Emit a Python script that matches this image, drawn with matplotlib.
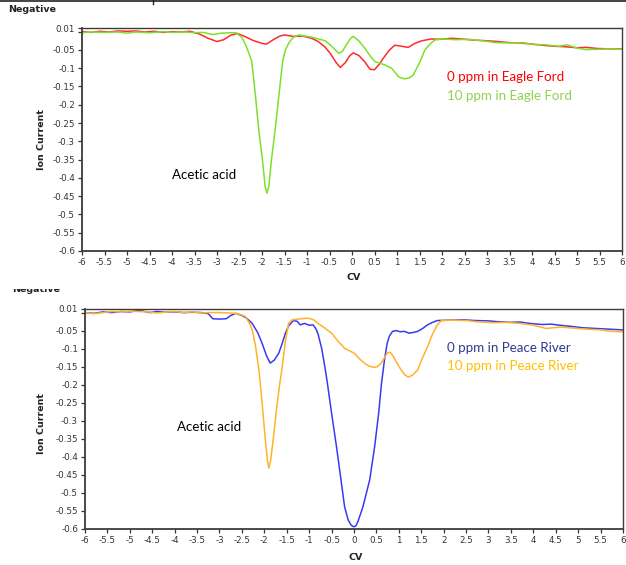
import matplotlib
matplotlib.use("Agg")
import matplotlib.pyplot as plt
from matplotlib.lines import Line2D
from matplotlib.patches import Rectangle

W, H = 626, 565

# ---- Eagle Ford (top panel) ----
ef0_cv = [-6.0, -5.8, -5.6, -5.4, -5.2, -5.0, -4.8, -4.6, -4.4, -4.2, -4.0, -3.8, -3.6,
          -3.4, -3.2, -3.0, -2.85, -2.7, -2.55, -2.4, -2.2, -2.0, -1.9, -1.75, -1.6, -1.5,
          -1.3, -1.1, -0.9, -0.75, -0.6, -0.48, -0.35, -0.26, -0.15, -0.05, 0.03, 0.15,
          0.28, 0.4, 0.5, 0.6, 0.7, 0.82, 0.95, 1.1, 1.25, 1.4, 1.55, 1.76, 2.0, 2.2, 2.43,
          2.7, 3.0, 3.24, 3.5, 3.75, 4.0, 4.3, 4.5, 4.71, 5.0, 5.2, 5.45, 5.7, 6.0]
ef0_i = [0.000, -0.002, 0.001, -0.001, 0.002, 0.001, 0.002, -0.001, 0.001, -0.002, 0.000,
         -0.001, 0.001, -0.006, -0.018, -0.027, -0.022, -0.010, -0.005, -0.012, -0.024,
         -0.032, -0.034, -0.022, -0.012, -0.009, -0.013, -0.012, -0.018, -0.027, -0.042,
         -0.060, -0.085, -0.098, -0.085, -0.066, -0.058, -0.065, -0.082, -0.103, -0.104,
         -0.090, -0.072, -0.052, -0.037, -0.040, -0.043, -0.032, -0.025, -0.020, -0.021,
         -0.018, -0.020, -0.023, -0.025, -0.027, -0.030, -0.031, -0.034, -0.038, -0.040,
         -0.041, -0.044, -0.043, -0.046, -0.047, -0.047]

ef10_cv = [-6.0, -5.8, -5.5, -5.2, -5.0, -4.8, -4.5, -4.2, -4.0, -3.7, -3.5, -3.3, -3.1,
           -2.9, -2.7, -2.58, -2.45, -2.35, -2.29, -2.23, -2.15, -2.08, -1.99, -1.93, -1.89,
           -1.85, -1.79, -1.70, -1.62, -1.54, -1.48, -1.40, -1.3, -1.18, -1.0, -0.89, -0.75,
           -0.59, -0.45, -0.3, -0.22, -0.12, -0.03, 0.03, 0.15, 0.29, 0.4, 0.51, 0.73, 0.88,
           1.03, 1.1, 1.18, 1.28, 1.36, 1.5, 1.62, 1.75, 1.84, 2.0, 2.3, 2.6, 2.9, 3.2, 3.5,
           3.8, 4.0, 4.3, 4.6, 4.78, 5.0, 5.2, 5.5, 5.7, 6.0]
ef10_i = [-0.003, -0.001, -0.002, -0.001, -0.004, -0.001, -0.003, 0.000, -0.002, -0.001,
          -0.003, -0.002, -0.008, -0.004, -0.003, -0.003, -0.015, -0.040, -0.060, -0.080,
          -0.169, -0.260, -0.351, -0.424, -0.442, -0.424, -0.351, -0.260, -0.169, -0.080,
          -0.050, -0.030, -0.015, -0.009, -0.013, -0.015, -0.020, -0.025, -0.040, -0.059,
          -0.055, -0.035, -0.018, -0.013, -0.025, -0.046, -0.066, -0.082, -0.091, -0.100,
          -0.123, -0.127, -0.129, -0.126, -0.119, -0.085, -0.050, -0.032, -0.023, -0.020,
          -0.022, -0.021, -0.025, -0.030, -0.031, -0.030, -0.035, -0.036, -0.040, -0.036,
          -0.045, -0.049, -0.048, -0.047, -0.048]

# ---- Peace River (bottom panel) ----
pr0_cv = [-6.0, -5.8, -5.6, -5.4, -5.2, -5.0, -4.8, -4.7, -4.55, -4.4, -4.2, -4.0, -3.8,
          -3.6, -3.4, -3.25, -3.15, -3.0, -2.85, -2.75, -2.64, -2.5, -2.4, -2.27, -2.15,
          -2.05, -1.95, -1.87, -1.78, -1.68, -1.6, -1.53, -1.45, -1.35, -1.27, -1.2, -1.1,
          -1.0, -0.91, -0.85, -0.80, -0.72, -0.65, -0.60, -0.50, -0.39, -0.29, -0.21, -0.13,
          -0.06, 0.0, 0.05, 0.10, 0.20, 0.35, 0.46, 0.55, 0.61, 0.68, 0.74, 0.79, 0.86,
          0.94, 1.03, 1.12, 1.23, 1.32, 1.42, 1.52, 1.64, 1.75, 1.86, 2.1, 2.45, 2.7, 3.0,
          3.19, 3.5, 3.7, 3.92, 4.2, 4.4, 4.66, 4.9, 5.1, 5.4, 5.7, 6.0]
pr0_i = [0.000, -0.002, 0.002, 0.000, 0.003, 0.002, 0.006, 0.004, 0.000, 0.003, 0.001,
         0.002, 0.000, 0.001, 0.000, -0.003, -0.017, -0.018, -0.017, -0.008, -0.002,
         -0.008, -0.015, -0.030, -0.055, -0.085, -0.120, -0.140, -0.132, -0.113, -0.085,
         -0.057, -0.035, -0.022, -0.024, -0.034, -0.030, -0.035, -0.034, -0.045, -0.060,
         -0.100, -0.150, -0.190, -0.279, -0.372, -0.464, -0.538, -0.575, -0.590, -0.594,
         -0.590, -0.575, -0.538, -0.464, -0.372, -0.279, -0.200, -0.131, -0.085, -0.065,
         -0.052, -0.050, -0.053, -0.052, -0.057, -0.055, -0.052, -0.045, -0.034, -0.027,
         -0.022, -0.021, -0.020, -0.022, -0.023, -0.025, -0.027, -0.026, -0.030, -0.033,
         -0.032, -0.036, -0.039, -0.042, -0.044, -0.046, -0.048]

pr10_cv = [-6.0, -5.8, -5.6, -5.4, -5.2, -5.0, -4.8, -4.6, -4.4, -4.2, -4.0, -3.8, -3.6,
           -3.4, -3.2, -3.0, -2.8, -2.64, -2.52, -2.42, -2.33, -2.27, -2.2, -2.12, -2.05,
           -1.98, -1.93, -1.90, -1.86, -1.80, -1.73, -1.66, -1.61, -1.53, -1.46, -1.38,
           -1.31, -1.1, -1.0, -0.90, -0.80, -0.65, -0.50, -0.35, -0.21, -0.1, 0.01, 0.12,
           0.24, 0.35, 0.46, 0.53, 0.60, 0.68, 0.75, 0.81, 0.86, 0.95, 1.05, 1.13, 1.21,
           1.3, 1.42, 1.53, 1.64, 1.75, 1.86, 1.95, 2.2, 2.5, 2.8, 3.1, 3.4, 3.7, 4.0, 4.29,
           4.6, 4.9, 5.2, 5.5, 5.75, 6.0]
pr10_i = [0.000, -0.003, 0.000, 0.003, 0.002, 0.004, 0.003, 0.002, -0.001, 0.001, 0.003,
          0.000, 0.002, -0.001, 0.000, 0.000, -0.001, -0.002, -0.006, -0.011, -0.030,
          -0.048, -0.090, -0.159, -0.250, -0.350, -0.410, -0.431, -0.410, -0.350, -0.270,
          -0.200, -0.159, -0.080, -0.030, -0.020, -0.019, -0.016, -0.016, -0.020, -0.030,
          -0.043, -0.057, -0.080, -0.099, -0.106, -0.113, -0.128, -0.141, -0.149, -0.152,
          -0.149, -0.141, -0.125, -0.111, -0.110, -0.118, -0.138, -0.159, -0.172, -0.179,
          -0.174, -0.159, -0.125, -0.095, -0.060, -0.034, -0.022, -0.021, -0.022, -0.026,
          -0.028, -0.027, -0.030, -0.035, -0.044, -0.040, -0.043, -0.046, -0.048, -0.052,
          -0.053]

x_ticks = [i * 0.5 for i in range(-12, 13)]
y_ticks = [0.01] + [-0.05 * i for i in range(1, 13)]


def fmt(v):
    s = ("%.2f" % v).rstrip("0").rstrip(".")
    return "0" if s in ("-0", "0") else s


def px_box(left, top, right, bottom):
    return [left / W, 1 - bottom / H, (right - left) / W, (bottom - top) / H]


def ftext(x, y, s, **kw):
    fig.text(x / W, 1 - y / H, s, **kw)


tick_font = dict(family="DejaVu Sans", size=6.3, color="#3a3040")
note_font = dict(family="Lato", size=9.6)


def style_axes(ax):
    ax.set_xlim(-6, 6)
    ax.set_ylim(-0.6, 0.01)
    ax.set_xticks(x_ticks)
    ax.set_xticklabels([fmt(v) for v in x_ticks], **tick_font)
    ax.set_yticks(y_ticks)
    ax.set_yticklabels([fmt(v) for v in y_ticks], **tick_font)
    ax.set_yticks([0.0], minor=True)
    ax.tick_params(axis="both", which="both", direction="out", length=3, width=0.9,
                   color="#333333", pad=2)
    for side, sp in ax.spines.items():
        sp.set_color("#3c3c3c")
        sp.set_linewidth(1.3 if side in ("left", "bottom") else 1.0)
    ax.set_facecolor("white")


fig = plt.figure(figsize=(W / 100, H / 100), dpi=100)

ax1 = fig.add_axes(px_box(82, 28, 622, 251))
ax1.plot(ef0_cv, ef0_i, color="#ff2a2a", lw=1.1)
ax1.plot(ef10_cv, ef10_i, color="#7fe02a", lw=1.1)
style_axes(ax1)

ax2 = fig.add_axes(px_box(85, 309, 623, 529))
ax2.plot(pr0_cv, pr0_i, color="#3a3af0", lw=1.1)
ax2.plot(pr10_cv, pr10_i, color="#ffb22a", lw=1.1)
style_axes(ax2)

bold = dict(family="DejaVu Sans", weight="bold", size=6.8, color="#222222")

ftext(8, 10, "Negative", ha="left", va="center", **bold)
ftext(12, 289, "Negative", ha="left", va="center", **bold)
ftext(42, 140, "Ion Current", ha="center", va="center", rotation=90, **bold)
ftext(42, 423, "Ion Current", ha="center", va="center", rotation=90, **bold)
ftext(354, 278, "CV", ha="center", va="center", **bold)
ftext(356, 558, "CV", ha="center", va="center", **bold)

ftext(172, 175, "Acetic acid", ha="left", va="center", color="black", **note_font)
ftext(177, 427, "Acetic acid", ha="left", va="center", color="black", **note_font)
ftext(447, 77, "0 ppm in Eagle Ford", ha="left", va="center", color="#ff0000", **note_font)
ftext(447, 96, "10 ppm in Eagle Ford", ha="left", va="center", color="#92d050", **note_font)
ftext(447, 348, "0 ppm in Peace River", ha="left", va="center", color="#2f3a8f", **note_font)
ftext(447, 366, "10 ppm in Peace River", ha="left", va="center", color="#ffc000", **note_font)

# upper part of the second header is hidden under the panel above
fig.add_artist(Rectangle((0, 1 - 289 / H), 80 / W, 8 / H, transform=fig.transFigure,
                         facecolor="white", edgecolor="none", zorder=5))

# border line at the very top
fig.add_artist(Line2D([0, 1], [1 - 0.8 / H, 1 - 0.8 / H], transform=fig.transFigure,
                      color="#222222", lw=1.2))
fig.add_artist(Line2D([153 / W, 153 / W], [1, 1 - 4 / H], transform=fig.transFigure,
                      color="#222222", lw=1.0))

fig.savefig("out.png", dpi=100, facecolor="white")
